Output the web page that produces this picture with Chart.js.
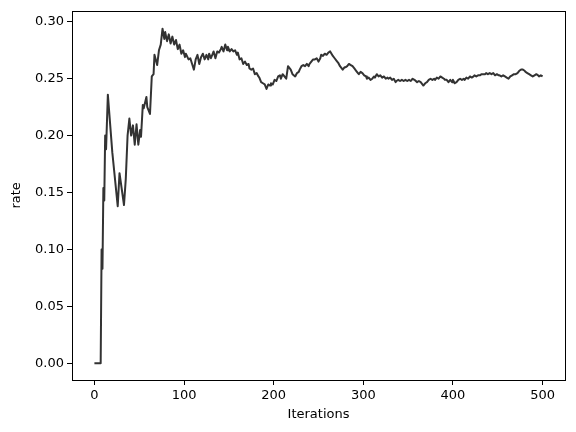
<!DOCTYPE html>
<html>
<head>
<meta charset="utf-8">
<script src="https://cdn.jsdelivr.net/npm/chart.js@4/dist/chart.umd.min.js"></script>
<style>
  html, body { margin: 0; padding: 0; background: #fff; }
  #wrap { width: 576px; height: 432px; }
</style>
</head>
<body>
<div id="wrap"><canvas id="rateChart" width="576" height="432"></canvas></div>
<script>
// running rate per iteration
const iters = [
  0, 7, 8, 9, 10, 11, 12, 13, 15, 20, 26, 28, 33, 35, 37, 39, 41, 43, 45, 47,
  49, 51, 52, 54, 55, 58, 59, 62, 64, 66, 67, 70, 72, 74, 76, 78, 79, 81, 83, 85,
  87, 89, 91, 93, 95, 97, 99, 101, 102, 105, 107, 109, 111, 113, 115, 117, 119, 121, 123, 125,
  127, 128, 130, 133, 135, 137, 139, 141, 142, 144, 146, 148, 149, 151, 153, 155, 157, 159, 160, 162,
  164, 166, 168, 170, 172, 173, 175, 177, 179, 181, 183, 184, 186, 188, 190, 192, 194, 196, 197, 199,
  201, 203, 205, 207, 208, 210, 212, 214, 216, 219, 221, 224, 226, 228, 229, 231, 233, 235, 237, 239,
  240, 242, 244, 246, 248, 250, 252, 253, 255, 257, 259, 261, 263, 266, 268, 270, 272, 274, 277, 279,
  280, 282, 284, 286, 288, 290, 292, 294, 295, 297, 299, 301, 303, 304, 306, 308, 310, 312, 313, 315,
  317, 319, 321, 323, 325, 327, 328, 330, 332, 334, 336, 337, 339, 341, 343, 345, 347, 349, 351, 353,
  355, 357, 360, 362, 364, 367, 369, 371, 373, 375, 377, 379, 380, 382, 384, 386, 388, 390, 391, 393,
  395, 397, 399, 400, 402, 404, 406, 408, 410, 412, 413, 415, 417, 419, 421, 423, 424, 426, 428, 430,
  432, 434, 436, 437, 439, 441, 443, 445, 447, 449, 451, 452, 454, 456, 458, 460, 462, 464, 466, 468,
  470, 472, 474, 476, 478, 480, 481, 483, 485, 487, 489, 491, 493, 495, 496, 498, 500
];
const rates = [
  0, 0, 0.1, 0.083, 0.154, 0.143, 0.2, 0.188, 0.236, 0.185, 0.138, 0.167, 0.139, 0.162, 0.2, 0.215, 0.2, 0.209, 0.192, 0.21,
  0.192, 0.205, 0.199, 0.227, 0.224, 0.234, 0.225, 0.219, 0.252, 0.254, 0.271, 0.262, 0.275, 0.28, 0.294, 0.285, 0.291, 0.283, 0.289, 0.281,
  0.287, 0.28, 0.284, 0.276, 0.28, 0.272, 0.275, 0.269, 0.272, 0.267, 0.268, 0.263, 0.258, 0.267, 0.271, 0.263, 0.269, 0.272, 0.267, 0.271,
  0.267, 0.272, 0.268, 0.274, 0.268, 0.274, 0.273, 0.276, 0.278, 0.274, 0.28, 0.275, 0.278, 0.274, 0.276, 0.274, 0.275, 0.271, 0.273, 0.267,
  0.268, 0.263, 0.265, 0.262, 0.263, 0.259, 0.258, 0.259, 0.254, 0.255, 0.252, 0.251, 0.247, 0.246, 0.245, 0.241, 0.245, 0.244, 0.246, 0.245,
  0.249, 0.248, 0.252, 0.253, 0.25, 0.254, 0.252, 0.25, 0.261, 0.258, 0.254, 0.252, 0.255, 0.256, 0.258, 0.261, 0.262, 0.261, 0.263, 0.261,
  0.263, 0.265, 0.267, 0.267, 0.268, 0.265, 0.268, 0.271, 0.27, 0.272, 0.271, 0.273, 0.274, 0.27, 0.268, 0.266, 0.264, 0.261, 0.258, 0.26,
  0.26, 0.261, 0.263, 0.262, 0.261, 0.259, 0.257, 0.255, 0.254, 0.256, 0.255, 0.253, 0.252, 0.25, 0.251, 0.249, 0.25, 0.252, 0.251, 0.254,
  0.252, 0.253, 0.251, 0.252, 0.25, 0.251, 0.25, 0.251, 0.249, 0.25, 0.247, 0.248, 0.249, 0.248, 0.249, 0.248, 0.249, 0.248, 0.249, 0.248,
  0.25, 0.249, 0.247, 0.248, 0.247, 0.244, 0.246, 0.247, 0.249, 0.25, 0.249, 0.25, 0.249, 0.251, 0.25, 0.252, 0.251, 0.25, 0.249, 0.249,
  0.247, 0.249, 0.247, 0.249, 0.246, 0.247, 0.249, 0.25, 0.249, 0.25, 0.249, 0.251, 0.25, 0.252, 0.251, 0.252, 0.253, 0.252, 0.253, 0.253,
  0.254, 0.254, 0.254, 0.255, 0.254, 0.255, 0.254, 0.255, 0.253, 0.254, 0.253, 0.253, 0.252, 0.253, 0.252, 0.251, 0.25, 0.252, 0.253, 0.254,
  0.254, 0.255, 0.257, 0.258, 0.258, 0.257, 0.256, 0.255, 0.254, 0.253, 0.252, 0.253, 0.254, 0.253, 0.252, 0.253, 0.252
];

const xTitle = 'Iterations';
const yTitle = 'rate';

const font = { family: 'DejaVu Sans', size: 13 };

// draw the full box around the plot like matplotlib spines
const frame = {
  id: 'frame',
  afterDraw(chart) {
    const a = chart.chartArea;
    const ctx = chart.ctx;
    ctx.save();
    ctx.strokeStyle = '#000';
    ctx.lineWidth = 1;
    ctx.strokeRect(Math.round(a.left) + 0.5, Math.round(a.top) + 0.5,
      Math.round(a.right - a.left), Math.round(a.bottom - a.top));
    ctx.restore();
  }
};

new Chart(document.getElementById('rateChart'), {
  type: 'line',
  data: {
    datasets: [{
      data: iters.map((x, i) => ({ x: x, y: rates[i] })),
      borderColor: '#333333',
      borderWidth: 2,
      borderJoinStyle: 'round',
      pointRadius: 0,
      tension: 0,
      fill: false
    }]
  },
  options: {
    responsive: false,
    animation: false,
    layout: { padding: { top: 10, right: 11, left: 0, bottom: 0 } },
    plugins: { legend: { display: false }, tooltip: { enabled: false } },
    scales: {
      x: {
        type: 'linear',
        min: -25,
        max: 525,
        afterFit(scale) { scale.height = 52; },
        grid: { drawOnChartArea: false, drawTicks: true, tickLength: 5, color: '#000' },
        border: { display: false },
        ticks: { stepSize: 100, includeBounds: false, color: '#000', font: font, padding: 3, maxRotation: 0 },
        title: { display: true, text: xTitle, color: '#000', font: font, padding: { top: 0, bottom: 10 } }
      },
      y: {
        type: 'linear',
        min: -0.0148,
        max: 0.3097,
        afterFit(scale) { scale.width = 72; },
        grid: { drawOnChartArea: false, drawTicks: true, tickLength: 5, color: '#000' },
        border: { display: false },
        ticks: {
          stepSize: 0.05,
          includeBounds: false,
          color: '#000',
          font: font,
          padding: 3,
          callback: v => v.toFixed(2)
        },
        title: { display: true, text: yTitle, color: '#000', font: font, padding: { top: 9, bottom: 0 } }
      }
    }
  },
  plugins: [frame]
});
</script>
</body>
</html>
